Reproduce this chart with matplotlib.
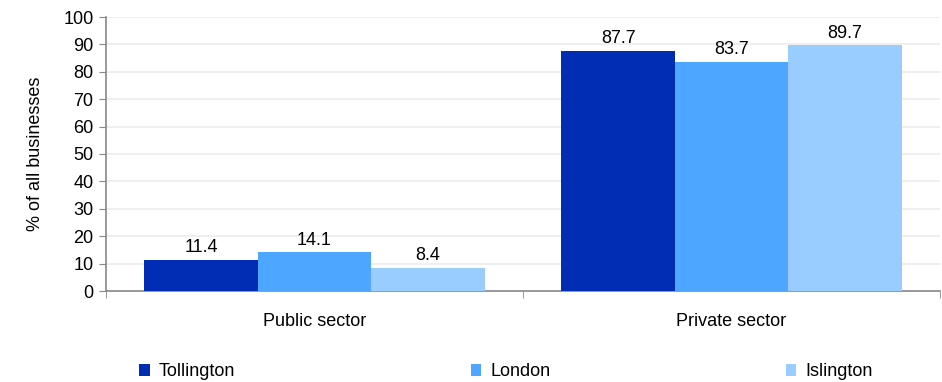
import numpy as np
import matplotlib
matplotlib.use("Agg")
import matplotlib.pyplot as plt

plt.rcParams['font.family'] = ['Liberation Sans', 'DejaVu Sans']

# data
categories = ["Public sector", "Private sector"]
series_names = ["Tollington", "London", "Islington"]
tollington = [11.4, 87.7]
london = [14.1, 83.7]
islington = [8.4, 89.7]
colors = ["#002db3", "#4da6ff", "#99ccff"]

fig = plt.figure(figsize=(9.42, 3.82), dpi=100)
ax = fig.add_axes([106/942, 1 - 291/382, 834/942, 274/382])

x = np.arange(len(categories))
width = 0.272
handles = []
for i, (vals, name, c) in enumerate(zip([tollington, london, islington], series_names, colors)):
    bars = ax.bar(x + (i - 1) * width, vals, width, color=c, label=name, zorder=3)
    handles.append(bars)
    for xi, v in zip(x + (i - 1) * width, vals):
        ax.text(xi, v + 1.3, f"{v:.1f}", ha='center', va='bottom', fontsize=13, color='black', zorder=4)

ax.set_xlim(-0.5, len(categories) - 0.5)
ax.set_ylim(0, 100)
ax.set_yticks(range(0, 101, 10))
ax.tick_params(axis='y', labelsize=13, length=5, color='#888888', pad=4)
ax.set_xticks(x)
ax.set_xticklabels(categories, fontsize=13)
ax.tick_params(axis='x', length=0, pad=16)
# category boundary ticks
ax.set_xticks(np.arange(-0.5, len(categories), 1.0), minor=True)
ax.tick_params(axis='x', which='minor', length=5, color='#888888')

ax.set_ylabel("% of all businesses", fontsize=13, labelpad=14)
ax.grid(axis='y', color='#ececec', linewidth=1.2, zorder=0)
for s in ['top', 'right']:
    ax.spines[s].set_visible(False)
for s in ['left', 'bottom']:
    ax.spines[s].set_color('#888888')
    ax.spines[s].set_linewidth(1.2)

fig.legend(handles=handles, labels=series_names, loc='center', ncol=3, mode='expand',
           bbox_to_anchor=(132/942, 1 - 381/382, 748/942, 18/382), frameon=False,
           fontsize=13, handlelength=0.6, handleheight=0.6, handletextpad=0.5,
           borderaxespad=0)

fig.savefig("out.png", dpi=100)
